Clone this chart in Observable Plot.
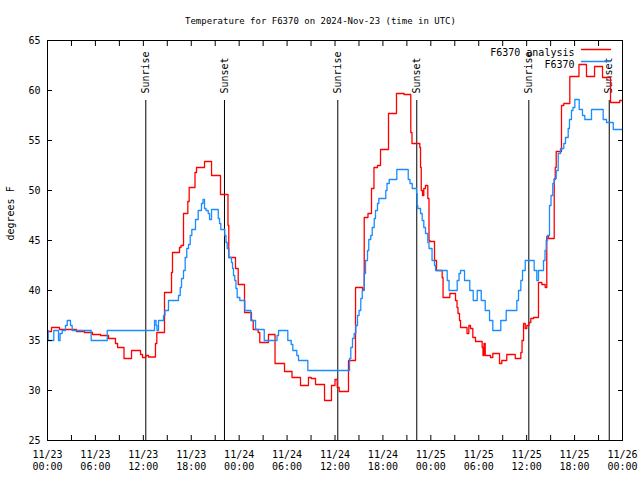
<!DOCTYPE html>
<html>
<head>
<meta charset="utf-8">
<script src="https://cdn.jsdelivr.net/npm/d3@7"></script>
<script src="https://cdn.jsdelivr.net/npm/@observablehq/plot@0.6"></script>
<style>
  body { margin: 0; background: #ffffff; }
  #chart svg { display: block; }
</style>
</head>
<body>
<div id="chart"></div>
<script>
// ---- Data (hours since 2024-11-23 00:00 UTC) ----
const chartTitle = "Temperature for F6370 on 2024-Nov-23 (time in UTC)";
const yLabel = "degrees F";
const seriesNames = ["F6370 analysis", "F6370"];

const analysisHours = [0, 0.50, 1.50, 3.63, 4.63, 5.63, 6.64, 7.64, 8.51, 8.77, 9.58, 10.52, 11.65, 11.90, 12.31, 12.65, 13.52, 13.69, 14.65, 15.53, 15.65, 16.53, 16.72, 17.03, 17.57, 17.74, 18.47, 18.66, 19.66, 20.54, 21.66, 22.60, 22.70, 23.54, 23.88, 24.67, 25.54, 25.76, 26.38, 26.58, 27.67, 28.49, 29.68, 30.62, 31.68, 32.68, 33.02, 33.56, 34.69, 35.56, 36.00, 36.28, 36.53, 37.69, 38.57, 39.45, 39.66, 40.13, 40.57, 40.88, 41.32, 41.70, 42.70, 43.70, 44.64, 45.49, 45.64, 46.62, 46.71, 46.80, 46.96, 47.12, 47.33, 47.62, 47.77, 47.87, 48.46, 48.71, 49.42, 49.53, 50.38, 51.09, 51.28, 51.40, 51.59, 51.72, 52.53, 52.76, 52.97, 53.26, 53.59, 54.43, 54.53, 54.66, 54.81, 55.47, 55.76, 56.60, 56.89, 57.51, 58.57, 59.27, 59.42, 59.61, 59.82, 60.02, 60.29, 60.52, 60.86, 61.48, 61.90, 62.32, 62.52, 62.74, 63.45, 63.58, 63.70, 64.36, 64.65, 65.40, 66.55, 67.49, 68.50, 69.50, 70.50, 71.66, 72];
const analysisTemps = [35.9, 36.3, 36.1, 35.9, 35.8, 35.6, 35.5, 35.2, 34.7, 34.3, 33.2, 34.0, 33.6, 33.3, 33.5, 33.35, 34.7, 35.8, 39.8, 41.8, 43.8, 44.3, 44.5, 47.7, 48.9, 50.3, 51.8, 52.3, 52.9, 51.5, 49.6, 46.5, 43.3, 42.2, 40.6, 37.8, 37.0, 36.1, 35.8, 34.8, 35.6, 32.7, 31.9, 31.3, 30.5, 31.3, 31.2, 30.6, 29.0, 30.5, 31.1, 30.3, 29.9, 33.0, 40.3, 40.1, 47.3, 47.7, 50.2, 52.3, 52.5, 54.1, 57.7, 59.7, 59.6, 55.8, 54.7, 54.3, 52.3, 50.0, 49.5, 50.2, 50.5, 49.2, 45.0, 44.9, 43.0, 42.0, 41.3, 39.3, 39.7, 39.0, 38.3, 37.7, 37.0, 36.3, 35.7, 36.5, 36.2, 35.3, 34.9, 34.3, 33.5, 34.7, 33.5, 33.3, 33.7, 32.7, 33.0, 33.6, 33.2, 33.8, 35.0, 36.7, 36.2, 36.5, 36.8, 37.2, 37.3, 40.8, 40.6, 40.3, 45.4, 45.2, 51.1, 52.3, 53.9, 58.5, 58.7, 61.4, 62.6, 61.4, 62.4, 61.3, 58.8, 59.0, 59.0];

const obsHours = [0, 0.09, 0.79, 1.38, 1.57, 1.84, 2.25, 2.47, 2.88, 3.09, 5.47, 7.48, 13.40, 13.59, 13.71, 13.90, 14.53, 14.71, 15.15, 16.40, 16.62, 16.78, 17.03, 17.24, 17.44, 17.66, 17.87, 18.07, 18.53, 18.87, 19.28, 19.47, 19.66, 19.85, 20.12, 20.29, 20.54, 21.38, 21.54, 21.70, 22.20, 22.35, 22.50, 22.70, 23.04, 23.17, 23.29, 23.45, 23.60, 23.75, 24.08, 24.71, 25.46, 26.05, 27.14, 28.74, 28.93, 30.09, 30.52, 30.72, 31.22, 31.43, 32.60, 37.82, 37.98, 38.19, 38.40, 38.61, 38.82, 39.01, 39.23, 39.41, 39.66, 39.82, 40.07, 40.23, 40.48, 40.66, 40.91, 41.07, 41.32, 41.49, 42.36, 42.51, 42.79, 43.74, 45.17, 45.39, 45.67, 46.21, 46.29, 46.37, 46.71, 46.92, 47.12, 47.33, 47.62, 47.77, 48.15, 48.46, 48.59, 50.05, 50.28, 51.30, 51.53, 51.72, 52.22, 52.88, 53.31, 53.81, 54.31, 54.81, 55.35, 55.76, 56.76, 57.44, 58.77, 58.98, 59.27, 59.48, 59.82, 60.94, 61.27, 61.48, 62.11, 62.30, 62.45, 62.61, 62.86, 63.05, 63.27, 63.45, 63.70, 63.95, 64.24, 64.65, 64.86, 65.20, 65.36, 65.61, 65.80, 66.03, 66.58, 66.99, 67.28, 68.12, 69.58, 70.00, 70.84, 72];
const obsTemps = [36.0, 35.0, 36.0, 35.0, 35.7, 36.0, 36.5, 37.0, 36.5, 36.0, 35.0, 36.0, 37.0, 36.5, 36.0, 37.0, 37.5, 38.0, 39.0, 39.5, 40.3, 41.2, 42.0, 43.3, 44.2, 44.6, 45.5, 46.1, 47.1, 48.0, 48.7, 49.1, 48.2, 48.0, 47.7, 47.1, 48.1, 47.2, 46.7, 46.1, 45.5, 44.8, 44.2, 43.3, 42.8, 42.2, 41.5, 41.0, 40.2, 39.3, 39.0, 38.0, 37.0, 36.1, 35.0, 35.5, 36.0, 35.0, 34.6, 34.0, 33.5, 33.0, 32.0, 33.2, 34.3, 35.2, 35.7, 36.5, 37.5, 38.0, 39.2, 40.0, 41.7, 43.0, 44.0, 45.1, 45.5, 46.3, 47.2, 48.0, 48.7, 49.2, 50.0, 50.7, 51.1, 52.1, 51.1, 50.7, 50.2, 49.7, 48.5, 48.2, 47.7, 47.0, 46.3, 45.7, 44.8, 44.2, 43.0, 42.5, 42.0, 41.0, 40.0, 41.0, 41.7, 42.0, 41.0, 40.0, 39.0, 40.0, 39.0, 38.0, 37.0, 36.0, 37.0, 38.0, 39.0, 40.0, 41.0, 42.0, 43.0, 42.0, 41.0, 42.0, 43.0, 44.0, 45.0, 45.5, 48.5, 49.5, 50.7, 51.2, 52.0, 53.7, 54.2, 54.7, 55.3, 56.2, 57.1, 58.0, 58.3, 59.1, 58.1, 57.5, 57.1, 58.1, 57.1, 56.8, 56.1, 56.1];

const sunHours = [12.31, 22.16, 36.35, 46.24, 60.27, 70.34];
const sunLabels = ["Sunrise", "Sunset", "Sunrise", "Sunset", "Sunrise", "Sunset"];
const sunLineSpan = [25, 59];

const yDomain = [25, 65];
const yTicks = [25, 30, 35, 40, 45, 50, 55, 60, 65];
const xTickHours = [0, 6, 12, 18, 24, 30, 36, 42, 48, 54, 60, 66, 72];
const xTickLabels = ["11/23\n00:00", "11/23\n06:00", "11/23\n12:00", "11/23\n18:00",
                     "11/24\n00:00", "11/24\n06:00", "11/24\n12:00", "11/24\n18:00",
                     "11/25\n00:00", "11/25\n06:00", "11/25\n12:00", "11/25\n18:00",
                     "11/26\n00:00"];
const xMinorHours = [0, 3, 6, 9, 12, 15, 18, 21, 24, 27, 30, 33, 36, 39, 42, 45, 48, 51, 54, 57, 60, 63, 66, 69, 72];

// ---- Build tables ----
const t0 = Date.parse("2024-11-23T00:00:00Z");
const toDate = h => new Date(t0 + h * 3600e3);
const analysis = analysisHours.map((h, i) => ({time: toDate(h), temp: analysisTemps[i]}));
const obs = obsHours.map((h, i) => ({time: toDate(h), temp: obsTemps[i]}));
const sun = sunHours.map((h, i) => ({time: toDate(h), label: sunLabels[i]}));
const xTicks = xTickHours.map(toDate);
const xMinor = xMinorHours.map(toDate);
const labelOf = new Map(xTicks.map((d, i) => [+d, xTickLabels[i]]));

const red = "#ff0000";
const blue = "#1a8cff";
const font = "DejaVu Sans Mono";

const lineShape = {draw(context, l) { context.moveTo(0, 0); context.lineTo(0, -l); }};

const chart = Plot.plot({
  width: 640,
  height: 480,
  marginLeft: 47,
  marginRight: 18,
  marginTop: 40,
  marginBottom: 40,
  style: {fontFamily: font, fontSize: "10px", background: "#ffffff", color: "#000"},
  x: {type: "utc", domain: [toDate(0), toDate(72)]},
  y: {domain: yDomain},
  marks: [
    Plot.ruleX(sun, {x: "time", y1: sunLineSpan[0], y2: sunLineSpan[1], stroke: "#000", strokeWidth: 1}),
    Plot.text(sun, {x: "time", y: sunLineSpan[1], text: "label", rotate: -90, textAnchor: "start", dy: -7, fill: "#000", fontSize: 10}),
    Plot.line(analysis, {x: "time", y: "temp", curve: "step-after", stroke: red, strokeWidth: 1.3}),
    Plot.line(obs, {x: "time", y: "temp", curve: "step-after", stroke: blue, strokeWidth: 1.3}),
    // axes: labels
    Plot.axisY(yTicks, {anchor: "left", tickSize: 0, tickPadding: 7, fontSize: 10, label: null}),
    Plot.axisX(xTicks, {anchor: "bottom", tickSize: 0, tickPadding: 9, fontSize: 10, lineHeight: 1.2, tickFormat: d => labelOf.get(+d), label: null}),
    // inward ticks on all four sides
    Plot.axisY(yTicks, {anchor: "left", tickSize: -5, tickFormat: () => "", label: null}),
    Plot.axisY(yTicks, {anchor: "right", tickSize: -5, tickFormat: () => "", label: null}),
    Plot.axisX(xMinor, {anchor: "bottom", tickSize: -5, tickFormat: () => "", label: null}),
    Plot.axisX(xMinor, {anchor: "top", tickSize: -5, tickFormat: () => "", label: null}),
    Plot.frame({stroke: "#000", strokeWidth: 1}),
    // title & y label
    Plot.text([chartTitle], {frameAnchor: "top", dx: -14.5, dy: -23, fontSize: 9, fill: "#000"}),
    Plot.text([yLabel], {frameAnchor: "left", dx: -37, rotate: -90, fontSize: 10, fill: "#000"}),
    // legend
    Plot.text([seriesNames[0]], {frameAnchor: "top-right", dx: -48, dy: 8, textAnchor: "end", fontSize: 10, fill: "#000"}),
    Plot.text([seriesNames[1]], {frameAnchor: "top-right", dx: -48, dy: 20, textAnchor: "end", fontSize: 10, fill: "#000"}),
    Plot.vector([seriesNames[0]], {frameAnchor: "top-right", dx: -41, dy: 9, length: 29, rotate: 90, anchor: "start", shape: lineShape, stroke: red, strokeWidth: 1.3}),
    Plot.vector([seriesNames[1]], {frameAnchor: "top-right", dx: -41, dy: 21, length: 29, rotate: 90, anchor: "start", shape: lineShape, stroke: blue, strokeWidth: 1.3})
  ]
});
document.getElementById("chart").appendChild(chart);
</script>
</body>
</html>
